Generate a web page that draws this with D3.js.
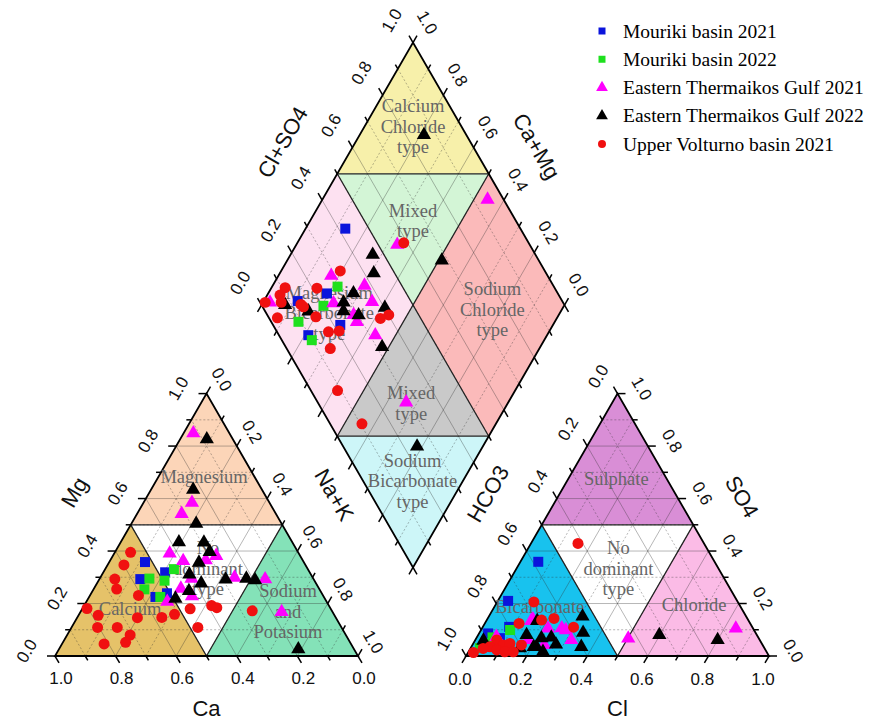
<!DOCTYPE html>
<html>
<head>
<meta charset="utf-8">
<script src="https://cdn.jsdelivr.net/npm/d3@7"></script>
<style>
  body { margin: 0; background: #fff; }
  .tick-label { font-family: "Liberation Sans", Arial, sans-serif; font-size: 17px; fill: #111; }
  .axis-title { font-family: "Liberation Sans", Arial, sans-serif; font-size: 22px; fill: #111; }
  .region-label { font-family: "Liberation Serif", "Times New Roman", serif; font-size: 18.5px; fill: #666; }
  .legend-label { font-family: "Liberation Serif", "Times New Roman", serif; font-size: 19.5px; fill: #000; }
</style>
</head>
<body>
<svg id="chart" width="870" height="722"></svg>
<script>
// ---- series ----
const seriesNames = ['Mouriki basin 2021', 'Mouriki basin 2022', 'Eastern Thermaikos Gulf 2021',
                     'Eastern Thermaikos Gulf 2022', 'Upper Volturno basin 2021'];
const seriesColors = ['#0a14dc', '#1ee01e', '#ff00ff', '#000000', '#f01010'];
const seriesShapes = ['square', 'square', 'triangle', 'triangle', 'circle'];

// cation triangle: [Mg, Na+K] (Ca = 1 - Mg - Na+K)
const cationMouriki21 = [[.358,.118],[.293,.135],[.319,.204],[.239,.250],[.225,.219]];
const cationMouriki22 = [[.295,.164],[.254,.168],[.287,.218],[.331,.227],[.225,.235]];
const cationThermaikos21 = [[.849,.032],[.584,.160],[.542,.147],[.391,.183],[.362,.242],[.365,.315],[.382,.341],
                            [.295,.303],[.257,.287],[.228,.338],[.207,.267],[.299,.443],[.293,.547],[.168,.664]];
const cationThermaikos22 = [[.826,.088],[.634,.139],[.504,.214],[.434,.192],[.433,.275],[.397,.312],[.356,.297],
                            [.311,.288],[.277,.344],[.248,.318],[.219,.288],[.292,.417],[.295,.484],[.289,.516],[.026,.790]];
const cationVolturno21 = [[.395,.052],[.347,.054],[.293,.051],[.255,.076],[.231,.160],[.181,.015],[.155,.065],
                          [.109,.086],[.109,.151],[.146,.199],[.147,.279],[.159,.315],[.080,.208],[.052,.207],
                          [.046,.139],[.180,.356],[.192,.421],[.184,.442],[.109,.417],[.172,.565]];

// anion triangle: [SO4, Cl] (HCO3 = 1 - SO4 - Cl)
const anionMouriki21 = [[.359,.059],[.210,.034],[.111,.087],[.086,.030],[.068,.078]];
const anionMouriki22 = [[.071,.052],[.099,.096],[.046,.046],[.030,.031],[.042,.091]];
const anionThermaikos21 = [[.140,.151],[.105,.218],[.099,.280],[.061,.317],[.042,.237],[.073,.064],[.067,.502],
                           [.105,.838],[.061,.174],[.106,.263],[.134,.148]];
const anionThermaikos22 = [[.151,.309],[.089,.342],[.035,.363],[.044,.275],[.071,.246],[.068,.215],[.035,.215],
                           [.016,.246],[.080,.160],[.134,.168],[.059,.028],[.080,.598],[.061,.800],[.035,.206],[.030,.163]];
const anionVolturno21 = [[.429,.155],[.206,.121],[.143,.219],[.124,.113],[.137,.181],[.061,.071],[.042,.102],
                         [.048,.121],[.042,.162],[.035,.061],[.029,.042],[.023,.090],[.016,.120],[.013,.018],
                         [.016,.148],[.110,.300]];

// diamond: [Cl+SO4, Na+K]
const diamondMouriki21 = [[.422,.131],[.238,.194],[.127,.112],[.097,.212],[.222,.298]];
const diamondMouriki22 = [[.286,.216],[.203,.206],[.090,.154],[.099,.233]];
const diamondThermaikos21 = [[.947,.545],[.563,.333],[.286,.174],[.033,.023],[.377,.303],[.241,.234],[.285,.323],
                             [.283,.347],[.371,.359],[.318,.433],[.292,.663]];
const diamondThermaikos22 = [[.860,.212],[.680,.510],[.463,.271],[.431,.310],[.078,.078],[.326,.281],[.143,.167],
                             [.276,.266],[.259,.282],[.301,.340],[.402,.412],[.318,.478],[.244,.783]];
const diamondVolturno21 = [[.588,.351],[.325,.195],[.111,.045],[.080,.042],[.070,.060],[.017,.007],[.028,.077],
                           [.215,.151],[.135,.142],[.401,.439],[.367,.418],[.157,.202],[.131,.129],[.144,.310],
                           [.170,.272],[.207,.306],[.088,.414],[.105,.558]];

const tickValues = d3.range(0, 11).map(i => i / 10);
const tickLabels = ['0.0', '0.2', '0.4', '0.6', '0.8', '1.0'];

// ---- geometry ----
const S = 303, H = S * Math.sqrt(3) / 2;
const svg = d3.select('#chart');

// triangle panel: r = right-corner fraction, t = top fraction
function trianglePanel(x0, y0) {
  const x = d3.scaleLinear().domain([0, 1]).range([x0, x0 + S]);
  const y = d3.scaleLinear().domain([0, 1]).range([y0, y0 - H]);
  return (r, t) => [x(r + t / 2), y(t)];
}
const catPos = trianglePanel(55, 656);   // r = Na+K, t = Mg
const anPos = trianglePanel(466, 656);   // r = Cl,   t = SO4

const dX = d3.scaleLinear().domain([0, 2]).range([261.5, 261.5 + S]);
const dY = d3.scaleLinear().domain([-1, 1]).range([305 - H, 305 + H]);
const diaPos = (a, c) => [dX(a + c), dY(c - a)];   // a = Cl+SO4, c = Na+K

const line = d3.line();
const g = svg.append('g');

function poly(pos, pts, fill) {
  g.append('path').attr('d', line(pts.map(p => pos(p[0], p[1]))) + 'Z')
    .attr('fill', fill).attr('stroke', 'none');
}
function seg(pos, p, q, stroke, w, dash) {
  const a = pos(p[0], p[1]), b = pos(q[0], q[1]);
  g.append('line').attr('x1', a[0]).attr('y1', a[1]).attr('x2', b[0]).attr('y2', b[1])
    .attr('stroke', stroke).attr('stroke-width', w).attr('stroke-dasharray', dash || null);
}

// ---- region fills ----
function triangleRegions(pos, cols) {
  // cols: [left corner, top, right corner, centre]
  poly(pos, [[0,0],[.5,0],[0,.5]], cols[0]);
  poly(pos, [[0,1],[0,.5],[.5,.5]], cols[1]);
  poly(pos, [[1,0],[.5,.5],[.5,0]], cols[2]);
  poly(pos, [[.5,0],[.5,.5],[0,.5]], cols[3]);
}
triangleRegions(catPos, ['#e5c269', '#fcd5b8', '#84e2b8', '#ffffff']);
triangleRegions(anPos, ['#18c2ee', '#d98ed6', '#fbbbe6', '#ffffff']);

poly(diaPos, [[.5,0],[1,0],[1,.5]], '#f7f0aa');
poly(diaPos, [[.5,0],[1,.5],[.5,.5]], '#d3f5d6');
poly(diaPos, [[0,0],[.5,0],[.5,.5],[0,.5]], '#fde1f1');
poly(diaPos, [[.5,.5],[1,.5],[1,1],[.5,1]], '#fbbaba');
poly(diaPos, [[0,.5],[.5,.5],[.5,1]], '#c9c9c9');
poly(diaPos, [[0,.5],[.5,1],[0,1]], '#cdf6f8');

// ---- grid ----
const gridCol = 'rgba(50,50,50,0.5)';
function triangleGrid(pos) {
  tickValues.slice(1, 10).forEach((v, i) => {
    const dash = (i % 2 === 0) ? '2,2' : null;
    seg(pos, [0, v], [1 - v, v], gridCol, 0.7, dash);
    seg(pos, [v, 0], [v, 1 - v], gridCol, 0.7, dash);
    seg(pos, [1 - v, 0], [0, 1 - v], gridCol, 0.7, dash);
  });
}
triangleGrid(catPos);
triangleGrid(anPos);
tickValues.slice(1, 10).forEach((v, i) => {
  const dash = (i % 2 === 0) ? '2,2' : null;
  seg(diaPos, [v, 0], [v, 1], gridCol, 0.7, dash);
  seg(diaPos, [0, v], [1, v], gridCol, 0.7, dash);
});

// ---- boundaries & outlines ----
function triangleFrame(pos) {
  g.append('path').attr('d', line([[.5,0],[.5,.5],[0,.5]].map(p => pos(p[0], p[1]))) + 'Z')
    .attr('fill', 'none').attr('stroke', '#222').attr('stroke-width', 1.3);
  g.append('path').attr('d', line([[0,0],[1,0],[0,1]].map(p => pos(p[0], p[1]))) + 'Z')
    .attr('fill', 'none').attr('stroke', '#000').attr('stroke-width', 1.8).attr('stroke-linejoin', 'miter');
}
triangleFrame(catPos);
triangleFrame(anPos);
seg(diaPos, [.5, 0], [.5, 1], '#222', 1.3);
seg(diaPos, [0, .5], [1, .5], '#222', 1.3);
seg(diaPos, [.5, 0], [1, .5], '#222', 1.3);
seg(diaPos, [0, .5], [.5, 1], '#222', 1.3);
g.append('path').attr('d', line([[0,0],[1,0],[1,1],[0,1]].map(p => diaPos(p[0], p[1]))) + 'Z')
  .attr('fill', 'none').attr('stroke', '#000').attr('stroke-width', 1.8);

// ---- ticks & labels ----
const c60 = 0.5, s60 = Math.sqrt(3) / 2;
function axisTicks(pointAt, dir, labelOff, rot, showLabels) {
  tickValues.forEach((v, i) => {
    const p = pointAt(v);
    const len = i % 2 === 0 ? 8 : 5;
    g.append('line').attr('x1', p[0]).attr('y1', p[1])
      .attr('x2', p[0] + dir[0] * len).attr('y2', p[1] + dir[1] * len)
      .attr('stroke', '#000').attr('stroke-width', 1.5);
    if (showLabels && i % 2 === 0) {
      const lx = p[0] + labelOff[0], ly = p[1] + labelOff[1];
      g.append('text').attr('class', 'tick-label')
        .attr('x', lx).attr('y', ly)
        .attr('text-anchor', 'middle').attr('dominant-baseline', 'central')
        .attr('transform', rot ? `rotate(${rot},${lx},${ly})` : null)
        .text(tickLabels[i / 2]);
    }
  });
}
// cation: Ca bottom (1 at left), Mg left, Na+K right
axisTicks(v => catPos(1 - v, 0), [c60, s60], [6, 22], 0, true);
axisTicks(v => catPos(0, v), [-1, 0], [-28, -5], -60, true);
axisTicks(v => catPos(v, 1 - v), [c60, -s60], [15, -14], 60, true);
// anion: Cl bottom, HCO3 left (1 at bottom), SO4 right
axisTicks(v => anPos(v, 0), [-c60, s60], [-6, 23], 0, true);
axisTicks(v => anPos(0, 1 - v), [-c60, -s60], [-19, -17], -60, true);
axisTicks(v => anPos(1 - v, v), [1, 0], [24, -5], 60, true);
// diamond
axisTicks(v => diaPos(v, 0), [-c60, -s60], [-21, -22], -60, true);
axisTicks(v => diaPos(1, 1 - v), [c60, -s60], [14, -20], 60, true);
axisTicks(v => diaPos(0, v), [-c60, s60], null, 0, false);
axisTicks(v => diaPos(v, 1), [c60, s60], null, 0, false);

// ---- axis titles ----
function title(txt, p, rot) {
  g.append('text').attr('class', 'axis-title')
    .attr('x', p[0]).attr('y', p[1])
    .attr('text-anchor', 'middle').attr('dominant-baseline', 'central')
    .attr('transform', rot ? `rotate(${rot},${p[0]},${p[1]})` : null)
    .text(txt);
}
function offset(p, dx, dy) { return [p[0] + dx, p[1] + dy]; }
title('Ca', offset(catPos(.5, 0), 0, 52), 0);
title('Mg', offset(catPos(0, .5), -s60 * 65, -c60 * 65), -60);
title('Na+K', offset(catPos(.5, .5), s60 * 60, -c60 * 60), 60);
title('Cl', offset(anPos(.5, 0), 0, 52), 0);
title('HCO3', offset(anPos(0, .5), -s60 * 62, -c60 * 62), -60);
title('SO4', offset(anPos(.5, .5), s60 * 56, -c60 * 56), 60);
title('Cl+SO4', offset(diaPos(.5, 0), -s60 * 63, -c60 * 63), -60);
title('Ca+Mg', offset(diaPos(1, .5), s60 * 55, -c60 * 55), 60);

// ---- region labels ----
function regionLabel(lines, p) {
  const n = lines.length;
  lines.forEach((txt, i) => {
    g.append('text').attr('class', 'region-label')
      .attr('x', p[0]).attr('y', p[1] + (i - (n - 1) / 2) * 20.5)
      .attr('text-anchor', 'middle').attr('dominant-baseline', 'central')
      .text(txt);
  });
}
const catLbl = (fx, fy) => catPos(fx - fy / 2, fy);
const anLbl = (fx, fy) => anPos(fx - fy / 2, fy);
regionLabel(['Magnesium'], catLbl(.492, .683));
regionLabel(['No', 'dominant', 'type'], catLbl(.505, .332));
regionLabel(['Calcium'], catLbl(.248, .179));
regionLabel(['Sodium', 'and', 'Potasium'], catLbl(.769, .168));
regionLabel(['Sulphate'], anLbl(.496, .673));
regionLabel(['No', 'dominant', 'type'], anLbl(.503, .332));
regionLabel(['Bicarbonate'], anLbl(.243, .188));
regionLabel(['Chloride'], anLbl(.753, .194));
regionLabel(['Calcium', 'Chloride', 'type'], diaPos(.84, .16));
regionLabel(['Mixed', 'type'], diaPos(.66, .34));
regionLabel(['Magnesium', 'Bicarbonate', 'type'], diaPos(.208, .239));
regionLabel(['Sodium', 'Chloride', 'type'], diaPos(.753, .771));
regionLabel(['Mixed', 'type'], diaPos(.306, .682));
regionLabel(['Sodium', 'Bicarbonate', 'type'], diaPos(.163, .834));

// ---- points ----
const symbolSize = { square: 100, triangle: 88, circle: 95 };
const symbolType = { square: d3.symbolSquare, triangle: d3.symbolTriangle, circle: d3.symbolCircle };
function drawSeries(data, k, toPx) {
  g.append('g').selectAll('path')
    .data(data)
    .join('path')
      .attr('d', d3.symbol().type(symbolType[seriesShapes[k]]).size(symbolSize[seriesShapes[k]]))
      .attr('transform', d => { const p = toPx(d); return `translate(${p[0]},${p[1]})`; })
      .attr('fill', seriesColors[k]);
}
const cationSets = [cationMouriki21, cationMouriki22, cationThermaikos21, cationThermaikos22, cationVolturno21];
const anionSets = [anionMouriki21, anionMouriki22, anionThermaikos21, anionThermaikos22, anionVolturno21];
const diamondSets = [diamondMouriki21, diamondMouriki22, diamondThermaikos21, diamondThermaikos22, diamondVolturno21];
cationSets.forEach((d, k) => drawSeries(d, k, p => catPos(p[1], p[0])));
anionSets.forEach((d, k) => drawSeries(d, k, p => anPos(p[1], p[0])));
diamondSets.forEach((d, k) => drawSeries(d, k, p => diaPos(p[0], p[1])));

// ---- legend ----
const legendY = d3.scalePoint().domain(seriesNames).range([31, 144]);
const legendSize = { square: 49, triangle: 60, circle: 50 };
const legend = svg.append('g');
seriesNames.forEach((name, k) => {
  const y = legendY(name);
  legend.append('path')
    .attr('d', d3.symbol().type(symbolType[seriesShapes[k]]).size(legendSize[seriesShapes[k]]))
    .attr('transform', `translate(602,${y})`)
    .attr('fill', seriesColors[k]);
  legend.append('text').attr('class', 'legend-label')
    .attr('x', 623).attr('y', y).attr('dominant-baseline', 'central')
    .text(name);
});
</script>
</body>
</html>
